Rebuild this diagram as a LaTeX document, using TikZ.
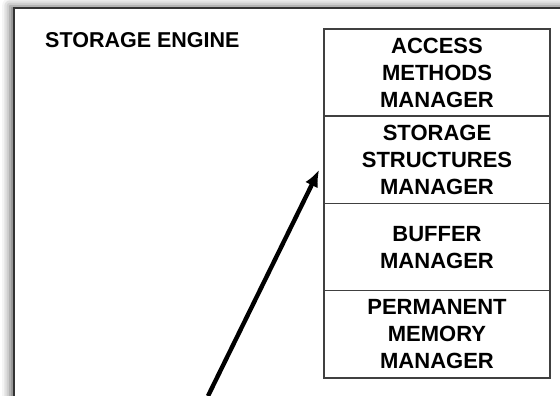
\documentclass[tikz,border=0pt]{standalone}
\usepackage{fontspec}
\setmainfont{Liberation Sans}
\usetikzlibrary{arrows.meta,positioning,shadows.blur}

\begin{document}
\begin{tikzpicture}[x=1pt,y=1pt,
  layerbox/.style={draw=black!75, line width=1.5pt, minimum width=226pt,
    minimum height=87.25pt, inner sep=0pt, outer sep=0pt, align=center,
    font=\fontsize{22}{27}\selectfont\bfseries},
  title/.style={anchor=base west, inner sep=0pt,
    font=\fontsize{21.5}{26}\selectfont\bfseries},
  pointer/.style={line width=4.4pt, -{Latex[length=17pt,width=14pt]}}]

  \useasboundingbox (0,0) rectangle (560,396);

  % engine frame, open past the right and bottom edges
  \begin{scope}
    \clip (0,0) rectangle (560,396);
    \draw[draw=black!80, line width=2pt, fill=white,
      blur shadow={shadow xshift=-4pt, shadow yshift=2pt,
        shadow blur radius=8pt, shadow opacity=60}]
      (14,388) rectangle (600,-20);
  \end{scope}

  \node[title] (eng) at (45,348) {STORAGE ENGINE};

  % stacked managers
  \node[layerbox] (am) at (437,323.375) {ACCESS\\METHODS\\MANAGER};
  \node[layerbox, below=0pt of am] (ssm) {STORAGE\\STRUCTURES\\MANAGER};
  \node[layerbox, below=0pt of ssm] (bm) {BUFFER\\MANAGER};
  \node[layerbox, below=0pt of bm] (pmm) {PERMANENT\\MEMORY\\MANAGER};

  \coordinate (src) at (208,0);
  \draw[pointer, shorten >=11pt] (src) -- (ssm.west);
\end{tikzpicture}
\end{document}
